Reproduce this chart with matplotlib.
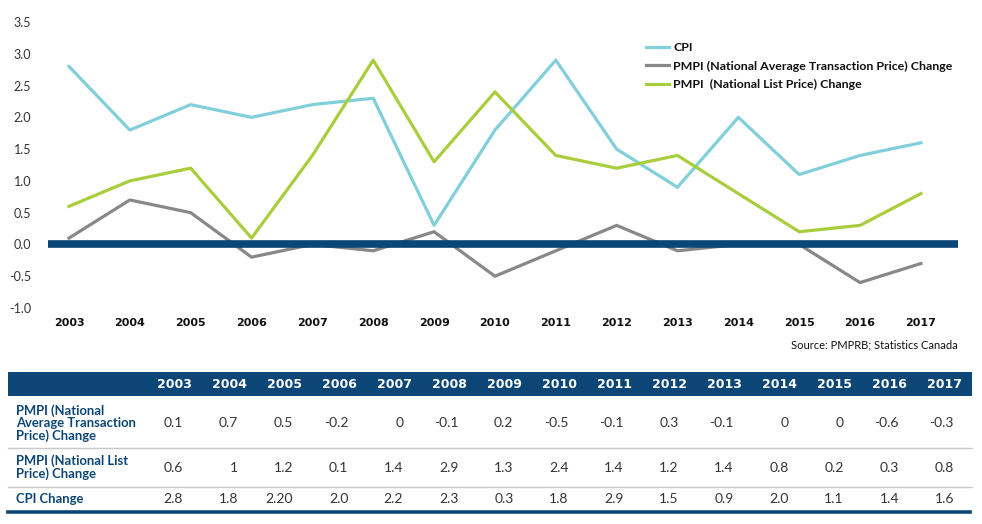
import matplotlib.pyplot as plt
from matplotlib.patches import Rectangle

years = [2003, 2004, 2005, 2006, 2007, 2008, 2009, 2010, 2011, 2012, 2013, 2014, 2015, 2016, 2017]
cpi = [2.8, 1.8, 2.2, 2.0, 2.2, 2.3, 0.3, 1.8, 2.9, 1.5, 0.9, 2.0, 1.1, 1.4, 1.6]
pmpi_avg = [0.1, 0.7, 0.5, -0.2, 0, -0.1, 0.2, -0.5, -0.1, 0.3, -0.1, 0, 0, -0.6, -0.3]
pmpi_list = [0.6, 1, 1.2, 0.1, 1.4, 2.9, 1.3, 2.4, 1.4, 1.2, 1.4, 0.8, 0.2, 0.3, 0.8]

# table cells as printed
avg_cells = ["0.1", "0.7", "0.5", "-0.2", "0", "-0.1", "0.2", "-0.5", "-0.1", "0.3", "-0.1", "0", "0", "-0.6", "-0.3"]
list_cells = ["0.6", "1", "1.2", "0.1", "1.4", "2.9", "1.3", "2.4", "1.4", "1.2", "1.4", "0.8", "0.2", "0.3", "0.8"]
cpi_cells = ["2.8", "1.8", "2.20", "2.0", "2.2", "2.3", "0.3", "1.8", "2.9", "1.5", "0.9", "2.0", "1.1", "1.4", "1.6"]
row_labels = ["PMPI (National\nAverage Transaction\nPrice) Change",
              "PMPI (National List\nPrice) Change",
              "CPI Change"]
yticks = [-1.0, -0.5, 0.0, 0.5, 1.0, 1.5, 2.0, 2.5, 3.0, 3.5]

NAVY = "#0b4677"
CPI_C = "#80cfdb"
GRAY_C = "#88888b"
GREEN_C = "#a9ce3d"
TXT = "#333333"

plt.rcParams["font.family"] = ["Lato", "DejaVu Sans"]

W, H = 982, 524
fig = plt.figure(figsize=(W / 100, H / 100), dpi=100)

# ---- line chart ----
ax = fig.add_axes([48 / W, 1 - 308 / H, (958 - 48) / W, (308 - 22) / H])
ax.plot(years, cpi, color=CPI_C, lw=2.3, label="CPI", zorder=2)
ax.plot(years, pmpi_avg, color=GRAY_C, lw=2.3,
        label="PMPI (National Average Transaction Price) Change", zorder=2)
ax.plot(years, pmpi_list, color=GREEN_C, lw=2.3,
        label="PMPI  (National List Price) Change", zorder=2)
ax.axhline(0, color=NAVY, lw=5.5, zorder=3)

ax.set_xlim(2002.655, 2017.61)
ax.set_ylim(-1.0, 3.5)
ax.set_yticks(yticks)
ax.set_yticklabels([f"{v:.1f}" for v in yticks], fontsize=9, color=TXT)
ax.set_xticks(years)
ax.set_xticklabels([str(y) for y in years], fontsize=8, fontweight="bold",
                   color="#111111", family=["DejaVu Sans"])
ax.tick_params(length=0, axis="y", pad=12)
ax.tick_params(length=0, axis="x", pad=7)
for s in ax.spines.values():
    s.set_visible(False)

leg = fig.legend(loc="upper left", bbox_to_anchor=(635 / W, 1 - 31 / H), frameon=False,
                 handlelength=1.85, handletextpad=0.35, labelspacing=0.6,
                 prop={"size": 8.9, "weight": "bold"})
for t in leg.get_texts():
    t.set_color("#111111")

fig.text(958 / W, 1 - 345 / H, "Source: PMPRB; Statistics Canada", ha="right", va="center",
         fontsize=8, color="#111111")

# ---- table below ----
tab = fig.add_axes([0, 0, 1, 1], zorder=-1)
tab.set_xlim(0, W)
tab.set_ylim(H, 0)
tab.axis("off")

tab.add_patch(Rectangle((8, 372), 964, 24, color=NAVY, lw=0))
tab.plot([8, 972], [448, 448], color="#c8c8c8", lw=1)
tab.plot([8, 972], [486.5, 486.5], color="#c8c8c8", lw=1)
tab.plot([8, 970], [511.5, 511.5], color=NAVY, lw=2.6)

col_x = [174 + (y - 2003) * 55.07 for y in years]
for cx, y in zip(col_x, years):
    tab.text(cx, 384, str(y), ha="center", va="center", fontsize=9,
             fontweight="heavy", color="white", family=["DejaVu Sans"])

row_y = [423, 467.5, 499]
for ry, lab in zip(row_y, row_labels):
    tab.text(16, ry, lab, ha="left", va="center", fontsize=9.4, fontweight="bold",
             color=NAVY, linespacing=1.02)

for ry, cells in zip(row_y, [avg_cells, list_cells, cpi_cells]):
    for cx, c in zip(col_x, cells):
        tab.text(cx + 9, ry, c, ha="right", va="center", fontsize=10, color=TXT)

fig.savefig("out.png", dpi=100)
